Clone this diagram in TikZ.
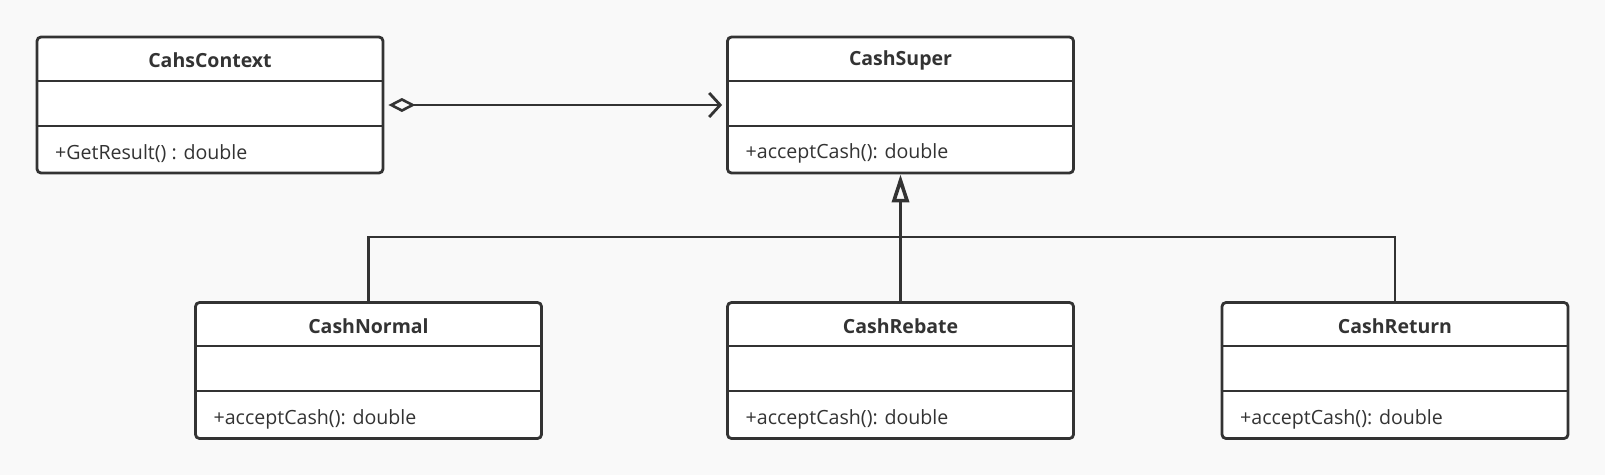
\documentclass[tikz,border=0pt]{standalone}
\usepackage{fontspec}
\setmainfont{Open Sans}
\usetikzlibrary{arrows.meta}

\definecolor{umlline}{RGB}{51,51,51}
\definecolor{umlbg}{RGB}{249,249,249}

\tikzset{
  classbox/.style={draw=umlline, line width=2.8pt, fill=white, rounded corners=4pt,
    minimum width=346pt, minimum height=136pt, inner sep=0pt},
  classname/.style={font=\fontsize{19.5}{23}\selectfont\bfseries, text=umlline},
  classop/.style={font=\fontsize{19.6}{23}\selectfont, text=umlline, anchor=west},
  divider/.style={draw=umlline, line width=2.2pt},
  link/.style={draw=umlline, line width=2.8pt},
  aggr/.style={link, {Diamond[open, length=27pt, width=14pt, line width=2.6pt]}-{Straight Barb[length=11pt, width=24pt, line width=2.8pt]},
    shorten <=4pt, shorten >=4pt},
  inherit/.style={link, -{Triangle[open, length=28pt, width=17pt, line width=3.6pt]}}
}

% class box: name, centre x, centre y, title, operation
\newcommand\umlclass[5]{
  \node[classbox] (#1) at (#2,#3) {};
  \draw[divider] ([yshift=-45pt]#1.north west) -- ([yshift=-45pt]#1.north east);
  \draw[divider] ([yshift=-90pt]#1.north west) -- ([yshift=-90pt]#1.north east);
  \node[classname] (#1-title) at ([yshift=-25pt]#1.north) {#4};
  \node[classop] (#1-op) at ([xshift=16pt, yshift=21pt]#1.south west) {#5};
}

\begin{document}
\begin{tikzpicture}[x=1pt, y=-1pt]

% Canvas
\fill[umlbg] (0,0) rectangle (1605,475);
\useasboundingbox (0,0) rectangle (1605,475);

% Classes
\umlclass{context}{210}{105}{CahsContext}{+GetResult() : double}
\umlclass{super}{900.5}{105}{CashSuper}{+acceptCash(): double}
\umlclass{normal}{368.5}{370.5}{CashNormal}{+acceptCash(): double}
\umlclass{rebate}{900.5}{370.5}{CashRebate}{+acceptCash(): double}
\umlclass{return}{1395}{370.5}{CashReturn}{+acceptCash(): double}

% Aggregation
\draw[aggr] (context.east) -- (super.west);

% Generalization
\coordinate (bus) at (900.5,237);
\draw[link] (normal.north) |- (bus) -| (return.north);
\draw[inherit] (rebate.north) -- (super.south);

\end{tikzpicture}
\end{document}
